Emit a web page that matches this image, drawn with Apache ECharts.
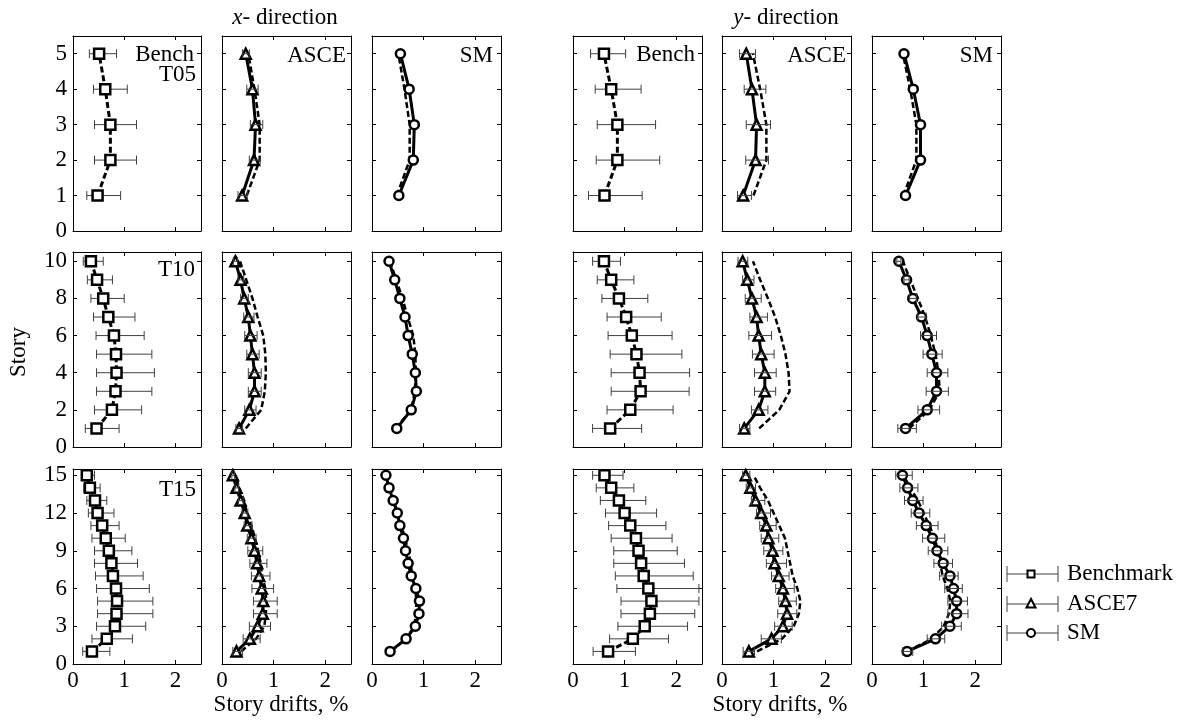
<!DOCTYPE html>
<html>
<head>
<meta charset="utf-8">
<script src="https://cdn.jsdelivr.net/npm/echarts@6/dist/echarts.min.js"></script>
<style>
html, body { margin: 0; padding: 0; background: #fff; }
#chart { width: 1190px; height: 727px; }
</style>
</head>
<body>
<div id="chart"></div>
<script>
// ---- data (story 1 -> top story), drifts in % ----
const storiesT05 = [1, 2, 3, 4, 5];
const storiesT10 = [1, 2, 3, 4, 5, 6, 7, 8, 9, 10];
const storiesT15 = [1, 2, 3, 4, 5, 6, 7, 8, 9, 10, 11, 12, 13, 14, 15];

// T05, x direction
const benchX05 = [0.48, 0.73, 0.73, 0.63, 0.51];
const benchX05Lo = [0.27, 0.42, 0.42, 0.40, 0.32];
const benchX05Hi = [0.93, 1.24, 1.24, 1.06, 0.85];
const asceX05 = [0.39, 0.62, 0.65, 0.59, 0.46];
const asceX05Lo = [0.31, 0.53, 0.55, 0.48, 0.40];
const asceX05Hi = [0.49, 0.74, 0.79, 0.70, 0.53];
const smX05 = [0.52, 0.80, 0.82, 0.72, 0.55];
// T05, y direction
const benchY05 = [0.61, 0.86, 0.86, 0.74, 0.60];
const benchY05Lo = [0.30, 0.45, 0.47, 0.43, 0.34];
const benchY05Hi = [1.34, 1.68, 1.60, 1.32, 1.02];
const asceY05 = [0.41, 0.65, 0.67, 0.58, 0.47];
const asceY05Lo = [0.30, 0.46, 0.47, 0.43, 0.34];
const asceY05Hi = [0.57, 0.90, 0.94, 0.85, 0.65];
const smY05 = [0.65, 0.94, 0.94, 0.80, 0.62];

// T10, x direction
const benchX10 = [0.46, 0.76, 0.83, 0.85, 0.84, 0.80, 0.69, 0.59, 0.47, 0.35];
const benchX10Lo = [0.24, 0.42, 0.46, 0.46, 0.46, 0.45, 0.40, 0.35, 0.28, 0.20];
const benchX10Hi = [0.90, 1.34, 1.54, 1.59, 1.54, 1.39, 1.21, 1.00, 0.77, 0.59];
const asceX10 = [0.33, 0.53, 0.63, 0.63, 0.59, 0.55, 0.51, 0.43, 0.36, 0.26];
const asceX10Lo = [0.27, 0.44, 0.51, 0.51, 0.48, 0.44, 0.42, 0.36, 0.31, 0.22];
const asceX10Hi = [0.40, 0.66, 0.76, 0.76, 0.72, 0.68, 0.62, 0.51, 0.42, 0.30];
const smX10 = [0.48, 0.76, 0.86, 0.84, 0.78, 0.70, 0.64, 0.54, 0.44, 0.33];
// T10, y direction
const benchY10 = [0.72, 1.11, 1.31, 1.29, 1.23, 1.14, 1.03, 0.89, 0.74, 0.60];
const benchY10Lo = [0.38, 0.66, 0.74, 0.74, 0.72, 0.68, 0.66, 0.56, 0.47, 0.38];
const benchY10Hi = [1.33, 1.94, 2.25, 2.26, 2.11, 1.92, 1.71, 1.45, 1.18, 0.92];
const asceY10 = [0.43, 0.71, 0.83, 0.83, 0.76, 0.71, 0.67, 0.58, 0.49, 0.40];
const asceY10Lo = [0.34, 0.57, 0.63, 0.63, 0.59, 0.52, 0.54, 0.45, 0.40, 0.31];
const asceY10Hi = [0.54, 0.89, 1.04, 1.05, 1.01, 0.96, 0.88, 0.76, 0.62, 0.50];
const smY10 = [0.65, 1.07, 1.25, 1.25, 1.16, 1.07, 0.96, 0.79, 0.67, 0.52];
const smY10Lo = [0.50, 0.89, 1.05, 1.07, 0.99, 0.94, 0.88, 0.73, 0.62, 0.48];
const smY10Hi = [0.86, 1.31, 1.48, 1.47, 1.36, 1.25, 1.05, 0.86, 0.72, 0.56];

// T15, x direction
const benchX15 = [0.37, 0.66, 0.82, 0.85, 0.86, 0.84, 0.78, 0.75, 0.70, 0.64, 0.57, 0.48, 0.43, 0.33, 0.27];
const benchX15Lo = [0.19, 0.37, 0.46, 0.48, 0.48, 0.46, 0.44, 0.42, 0.42, 0.37, 0.35, 0.30, 0.27, 0.21, 0.19];
const benchX15Hi = [0.72, 1.16, 1.42, 1.56, 1.56, 1.49, 1.37, 1.26, 1.15, 1.02, 0.90, 0.80, 0.66, 0.53, 0.42];
const asceX15 = [0.28, 0.54, 0.69, 0.79, 0.80, 0.77, 0.72, 0.68, 0.63, 0.57, 0.49, 0.44, 0.36, 0.28, 0.21];
const asceX15Lo = [0.21, 0.41, 0.53, 0.61, 0.61, 0.58, 0.57, 0.54, 0.50, 0.49, 0.43, 0.39, 0.32, 0.25, 0.19];
const asceX15Hi = [0.40, 0.74, 0.94, 1.07, 1.07, 1.00, 0.93, 0.87, 0.79, 0.66, 0.58, 0.50, 0.41, 0.32, 0.24];
const smX15 = [0.35, 0.66, 0.84, 0.91, 0.92, 0.85, 0.76, 0.70, 0.65, 0.61, 0.54, 0.49, 0.41, 0.33, 0.27];
// T15, y direction
const benchY15 = [0.68, 1.16, 1.39, 1.49, 1.52, 1.46, 1.37, 1.32, 1.27, 1.22, 1.11, 1.00, 0.89, 0.74, 0.61];
const benchY15Lo = [0.39, 0.71, 0.87, 0.93, 0.93, 0.85, 0.82, 0.79, 0.79, 0.74, 0.69, 0.63, 0.53, 0.45, 0.38];
const benchY15Hi = [1.21, 1.85, 2.22, 2.36, 2.44, 2.44, 2.33, 2.16, 2.02, 1.92, 1.80, 1.62, 1.41, 1.18, 0.97];
const asceY15 = [0.52, 0.96, 1.18, 1.26, 1.23, 1.18, 1.10, 1.02, 0.98, 0.90, 0.86, 0.76, 0.65, 0.55, 0.46];
const asceY15Lo = [0.41, 0.76, 1.02, 1.08, 1.10, 1.04, 0.96, 0.86, 0.81, 0.76, 0.73, 0.67, 0.57, 0.47, 0.40];
const asceY15Hi = [0.63, 1.15, 1.36, 1.45, 1.44, 1.40, 1.30, 1.25, 1.18, 1.10, 1.05, 0.94, 0.83, 0.65, 0.54];
const smY15 = [0.68, 1.23, 1.51, 1.64, 1.64, 1.58, 1.51, 1.38, 1.26, 1.17, 1.05, 0.91, 0.79, 0.69, 0.59];
const smY15Lo = [0.60, 1.07, 1.35, 1.47, 1.47, 1.41, 1.31, 1.20, 1.09, 0.98, 0.86, 0.76, 0.63, 0.54, 0.46];
const smY15Hi = [0.79, 1.41, 1.73, 1.86, 1.85, 1.75, 1.67, 1.56, 1.47, 1.41, 1.28, 1.12, 0.99, 0.89, 0.78];

const xTicks = [0, 1, 2];
const legendNames = ['Benchmark', 'ASCE7', 'SM'];

// ---- layout ----
const FONT = 'Liberation Serif';
const FS = 23;
const colLeft = [73, 222, 372, 573, 722, 872];
const colWidth = [128, 129, 129, 129, 129, 129];
const rowTop = [36, 252, 469];
const rowHeight = 195;
const rowMax = [5.5, 10.5, 15.5];
const rowInterval = [1, 2, 3];

const rowsData = [
  { stories: storiesT05,
    x: { bench: benchX05, benchLo: benchX05Lo, benchHi: benchX05Hi, asce: asceX05, asceLo: asceX05Lo, asceHi: asceX05Hi, sm: smX05 },
    y: { bench: benchY05, benchLo: benchY05Lo, benchHi: benchY05Hi, asce: asceY05, asceLo: asceY05Lo, asceHi: asceY05Hi, sm: smY05 } },
  { stories: storiesT10,
    x: { bench: benchX10, benchLo: benchX10Lo, benchHi: benchX10Hi, asce: asceX10, asceLo: asceX10Lo, asceHi: asceX10Hi, sm: smX10 },
    y: { bench: benchY10, benchLo: benchY10Lo, benchHi: benchY10Hi, asce: asceY10, asceLo: asceY10Lo, asceHi: asceY10Hi, sm: smY10, smLo: smY10Lo, smHi: smY10Hi } },
  { stories: storiesT15,
    x: { bench: benchX15, benchLo: benchX15Lo, benchHi: benchX15Hi, asce: asceX15, asceLo: asceX15Lo, asceHi: asceX15Hi, sm: smX15 },
    y: { bench: benchY15, benchLo: benchY15Lo, benchHi: benchY15Hi, asce: asceY15, asceLo: asceY15Lo, asceHi: asceY15Hi, sm: smY15, smLo: smY15Lo, smHi: smY15Hi } }
];

const symbolOf = { bench: 'rect', asce: 'triangle', sm: 'circle' };
const sizeOf = { bench: 10, asce: 10, sm: 9 };

const panels = [];
rowsData.forEach((rd, r) => {
  ['x', 'y'].forEach((dir, d) => {
    const g = rd[dir];
    panels.push({ r, c: d * 3, kind: 'bench', stories: rd.stories, mean: g.bench, lo: g.benchLo, hi: g.benchHi, ref: null });
    panels.push({ r, c: d * 3 + 1, kind: 'asce', stories: rd.stories, mean: g.asce, lo: g.asceLo, hi: g.asceHi, ref: g.bench });
    panels.push({ r, c: d * 3 + 2, kind: 'sm', stories: rd.stories, mean: g.sm, lo: g.smLo, hi: g.smHi, ref: g.bench });
  });
});

const intLabel = v => (Number.isInteger(v) ? String(v) : '');
const labelStyle = { fontSize: FS, fontFamily: FONT, color: '#000' };

function errRender(params, api) {
  const a = api.coord([api.value(0), api.value(2)]);
  const b = api.coord([api.value(1), api.value(2)]);
  const h = 4.5;
  const style = { stroke: '#404040', lineWidth: 1 };
  return {
    type: 'group',
    children: [
      { type: 'line', shape: { x1: a[0], y1: a[1], x2: b[0], y2: b[1] }, style },
      { type: 'line', shape: { x1: a[0], y1: a[1] - h, x2: a[0], y2: a[1] + h }, style },
      { type: 'line', shape: { x1: b[0], y1: b[1] - h, x2: b[0], y2: b[1] + h }, style }
    ]
  };
}

const grid = [], xAxis = [], yAxis = [], series = [];
panels.forEach((p, i) => {
  grid.push({ left: colLeft[p.c], top: rowTop[p.r], width: colWidth[p.c], height: rowHeight });
  const axLine = { show: true, onZero: false, lineStyle: { color: '#000', width: 1 } };
  const tick = { show: true, inside: true, length: 4, lineStyle: { color: '#000', width: 1 } };
  xAxis.push({
    gridIndex: i, type: 'value', min: 0, max: 2.5, interval: 1, position: 'bottom',
    axisLine: axLine, axisTick: tick, splitLine: { show: false },
    axisLabel: Object.assign({ show: p.r === 2, margin: 5, formatter: intLabel }, labelStyle)
  });
  xAxis.push({
    gridIndex: i, type: 'value', min: 0, max: 2.5, interval: 1, position: 'top',
    axisLine: axLine, axisTick: tick, splitLine: { show: false }, axisLabel: { show: false }
  });
  yAxis.push({
    gridIndex: i, type: 'value', min: 0, max: rowMax[p.r], interval: rowInterval[p.r], position: 'left',
    axisLine: axLine, axisTick: tick, splitLine: { show: false },
    axisLabel: Object.assign({ show: p.c === 0, margin: 6, formatter: intLabel }, labelStyle)
  });
  yAxis.push({
    gridIndex: i, type: 'value', min: 0, max: rowMax[p.r], interval: rowInterval[p.r], position: 'right',
    axisLine: axLine, axisTick: tick, splitLine: { show: false }, axisLabel: { show: false }
  });

  const xi = 2 * i, yi = 2 * i;
  if (p.ref) {
    series.push({
      type: 'line', xAxisIndex: xi, yAxisIndex: yi, z: 2, silent: true,
      symbol: 'none', data: p.stories.map((s, k) => [p.ref[k], s]),
      lineStyle: { color: '#000', width: 2.5, type: [6, 3] }
    });
  }
  if (p.lo) {
    series.push({
      type: 'custom', xAxisIndex: xi, yAxisIndex: yi, z: p.kind === 'bench' ? 1 : 4, silent: true,
      data: p.stories.map((s, k) => [p.lo[k], p.hi[k], s]),
      encode: { x: [0, 1], y: 2 },
      renderItem: errRender
    });
  }
  series.push({
    type: 'line', xAxisIndex: xi, yAxisIndex: yi, z: 3, silent: true,
    data: p.stories.map((s, k) => [p.mean[k], s]),
    symbol: symbolOf[p.kind], symbolSize: sizeOf[p.kind], showSymbol: true,
    lineStyle: { color: '#000', width: 3, type: p.kind === 'bench' ? [6, 3] : 'solid' },
    itemStyle: { color: '#fff', borderColor: '#000', borderWidth: 2.5 }
  });
});

// ---- texts and legend ----
function txt(text, x, y, align, extra) {
  return {
    type: 'text', x, y, silent: true,
    style: Object.assign({ text, fontSize: FS, fontFamily: FONT, fill: '#000', align: align || 'center', verticalAlign: 'middle' }, extra || {})
  };
}
const graphic = [
  txt('{i|x}- direction', 285, 18, 'center', { rich: { i: { fontStyle: 'italic', fontSize: FS, fontFamily: FONT } } }),
  txt('{i|y}- direction', 786, 18, 'center', { rich: { i: { fontStyle: 'italic', fontSize: FS, fontFamily: FONT } } }),
  Object.assign(txt('Story', 19, 352, 'center'), { rotation: Math.PI / 2 }),
  txt('Story drifts, %', 281, 705, 'center'),
  txt('Story drifts, %', 780, 705, 'center'),
  txt('Bench', 194, 55, 'right'),
  txt('T05', 196, 75, 'right'),
  txt('Bench', 695, 55, 'right'),
  txt('ASCE', 346, 56, 'right'),
  txt('ASCE', 846, 56, 'right'),
  txt('SM', 493, 56, 'right'),
  txt('SM', 993, 56, 'right'),
  txt('T10', 195, 270, 'right'),
  txt('T15', 196, 490, 'right')
];

const legendY = [574, 604, 633];
const legendStroke = { stroke: '#404040', lineWidth: 1 };
const markStyle = { fill: '#fff', stroke: '#000', lineWidth: 2 };
legendNames.forEach((name, k) => {
  const y = legendY[k];
  graphic.push({ type: 'line', silent: true, shape: { x1: 1007, y1: y, x2: 1058, y2: y }, style: legendStroke });
  graphic.push({ type: 'line', silent: true, shape: { x1: 1007, y1: y - 8, x2: 1007, y2: y + 8 }, style: legendStroke });
  graphic.push({ type: 'line', silent: true, shape: { x1: 1058, y1: y - 8, x2: 1058, y2: y + 8 }, style: legendStroke });
  if (k === 0) {
    graphic.push({ type: 'rect', silent: true, shape: { x: 1027.5, y: y - 3.5, width: 7, height: 7 }, style: markStyle });
  } else if (k === 1) {
    graphic.push({ type: 'polygon', silent: true, shape: { points: [[1031, y - 5], [1026.5, y + 3.5], [1035.5, y + 3.5]] }, style: markStyle });
  } else {
    graphic.push({ type: 'circle', silent: true, shape: { cx: 1031, cy: y, r: 4 }, style: markStyle });
  }
  graphic.push(txt(name, 1067, y, 'left'));
});

const chart = echarts.init(document.getElementById('chart'));
chart.setOption({
  animation: false,
  backgroundColor: '#fff',
  grid, xAxis, yAxis, series, graphic
});
</script>
</body>
</html>
